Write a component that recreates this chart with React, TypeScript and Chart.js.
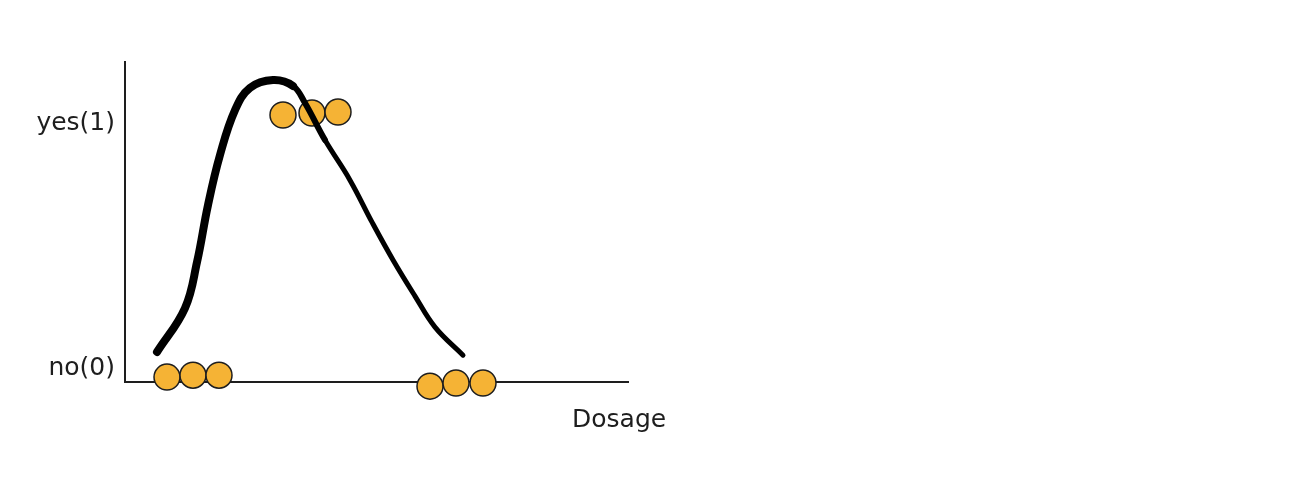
import { useEffect, useRef } from 'react';
import Chart from 'chart.js/auto';

// hand-drawn curve, x in dosage units, y where 0 = no, 1 = yes
const curveX = [32, 60, 72, 83, 95, 110, 125, 148, 168, 180, 200, 225, 247, 268, 290, 310, 338];
const curveY = [0.066, 0.246, 0.434, 0.668, 0.873, 1.057, 1.148, 1.18, 1.156, 1.086, 0.934, 0.77, 0.598, 0.443, 0.295, 0.168, 0.053];

// observed samples
const obsX = [42, 68, 94, 158, 187, 213, 305, 331, 358];
const obsY = [-0.037, -0.029, -0.029, 1.037, 1.045, 1.049, -0.074, -0.061, -0.061];

const tickValues = [0, 1];
const tickLabels = ['no(0)', 'yes(1)'];
const xTitle = 'Dosage';

const FONT = '"DejaVu Sans", sans-serif';

const App = () => {
  const canvasRef = useRef<HTMLCanvasElement | null>(null);
  const chartRef = useRef<Chart | null>(null);

  useEffect(() => {
    if (!canvasRef.current) return;
    if (chartRef.current) chartRef.current.destroy();

    const titlePlugin = {
      id: 'xTitle',
      afterDraw(chart: any) {
        const { ctx, chartArea } = chart;
        ctx.save();
        ctx.font = `25px ${FONT}`;
        ctx.fillStyle = '#1e1e1e';
        ctx.textAlign = 'left';
        ctx.textBaseline = 'middle';
        ctx.fillText(xTitle, chartArea.right - 56, chartArea.bottom + 38);
        ctx.restore();
      },
    };

    chartRef.current = new Chart(canvasRef.current, {
      type: 'line',
      data: {
        datasets: [
          {
            label: 'curve',
            data: curveX.map((x, i) => ({ x, y: curveY[i] })),
            borderColor: '#000000',
            borderWidth: 8,
            borderCapStyle: 'round',
            borderJoinStyle: 'round',
            pointRadius: 0,
            tension: 0.4,
            fill: false,
            clip: false,
            order: 0,
            segment: {
              borderWidth: (ctx: any) => {
                const i = ctx.p0DataIndex;
                if (i < 8) return 8;
                if (i < 10) return 6;
                return 5;
              },
            },
          },
          {
            label: 'samples',
            type: 'scatter',
            data: obsX.map((x, i) => ({ x, y: obsY[i] })),
            backgroundColor: '#f5b335',
            borderColor: '#1e1e1e',
            borderWidth: 1.5,
            pointRadius: 13,
            showLine: false,
            clip: false,
            order: 1,
          },
        ],
      },
      options: {
        responsive: true,
        maintainAspectRatio: false,
        animation: false,
        layout: { padding: { left: 0, right: 684, top: 62, bottom: 0 } },
        plugins: {
          legend: { display: false },
          tooltip: { enabled: false },
        },
        elements: { point: { hoverRadius: 13 } },
        scales: {
          x: {
            type: 'linear',
            min: 0,
            max: 503,
            grid: { display: false },
            border: { display: true, color: '#1e1e1e', width: 2 },
            ticks: { display: false },
            afterFit: (scale: any) => {
              scale.height = 96;
            },
          },
          y: {
            type: 'linear',
            min: -0.057,
            max: 1.254,
            grid: { display: false },
            border: { display: true, color: '#1e1e1e', width: 2 },
            afterBuildTicks: (scale: any) => {
              scale.ticks = tickValues.map((value) => ({ value }));
            },
            ticks: {
              color: '#1e1e1e',
              padding: 2,
              font: { family: FONT, size: 25 },
              callback: (value: any) => {
                const idx = tickValues.indexOf(Number(value));
                return idx >= 0 ? tickLabels[idx] : '';
              },
            },
            afterFit: (scale: any) => {
              scale.width = 125;
            },
          },
        },
      },
      plugins: [titlePlugin],
    } as any);

    return () => {
      if (chartRef.current) {
        chartRef.current.destroy();
        chartRef.current = null;
      }
    };
  }, []);

  return (
    <div style={{ position: 'fixed', left: 0, top: 0, width: '1312px', height: '478px', background: '#ffffff' }}>
      <canvas ref={canvasRef} />
    </div>
  );
};

export default App;
